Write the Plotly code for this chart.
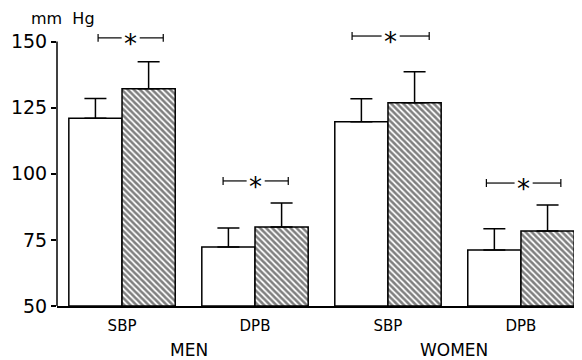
import plotly.graph_objects as go

# Data
groups = ["SBP", "DPB", "SBP", "DPB"]
sex_labels = ["MEN", "WOMEN"]
white_mean = [121, 72.3, 119.7, 71.2]
white_sd = [7.5, 7.2, 8.7, 8.0]
hatch_mean = [132.2, 79.9, 126.9, 78.4]
hatch_sd = [10.2, 9.1, 11.7, 9.8]
# significance brackets (x from, x to, y level) in data units
br_left = [-0.18, 0.76, 1.73, 2.74]
br_right = [0.31, 1.25, 2.31, 3.30]
br_y = [151.4, 97.3, 152.1, 96.5]
y_ticks = [50, 75, 100, 125, 150]

x = list(range(len(groups)))
FONT = "DejaVu Sans, sans-serif"

fig = go.Figure()
fig.add_trace(go.Bar(
    x=x, y=[m - 50 for m in white_mean], base=50,
    marker=dict(color="white", line=dict(color="black", width=1.5)),
    error_y=dict(type="data", symmetric=False, array=white_sd, arrayminus=[0]*4,
                 color="black", thickness=1.5, width=11),
    showlegend=False,
))
fig.add_trace(go.Bar(
    x=x, y=[m - 50 for m in hatch_mean], base=50,
    marker=dict(color="white", line=dict(color="black", width=1.5),
                pattern=dict(shape="\\", fgcolor="black", bgcolor="white",
                             size=4.3, solidity=0.6)),
    error_y=dict(type="data", symmetric=False, array=hatch_sd, arrayminus=[0]*4,
                 color="black", thickness=1.5, width=11),
    showlegend=False,
))

shapes = []
annotations = []
# y axis line from 50 to 150
shapes.append(dict(type="line", xref="paper", yref="y", x0=0, x1=0, y0=50, y1=150,
                   line=dict(color="black", width=1.5)))
gap = 0.068
cap = 1.5
for l, r, yv in zip(br_left, br_right, br_y):
    c = (l + r) / 2
    for a, b in [(l, c - gap), (c + gap, r)]:
        shapes.append(dict(type="line", xref="x", yref="y", x0=a, x1=b, y0=yv, y1=yv,
                           line=dict(color="black", width=1.2)))
    for e in [l, r]:
        shapes.append(dict(type="line", xref="x", yref="y", x0=e, x1=e, y0=yv - cap, y1=yv + cap,
                           line=dict(color="black", width=1.2)))
    annotations.append(dict(x=c, y=yv, xref="x", yref="y", text="*", showarrow=False,
                            font=dict(family=FONT, size=26, color="black"), yshift=-6))

for i, s in enumerate(sex_labels):
    annotations.append(dict(x=0.5 + 2 * i, y=-0.16, xref="x", yref="paper", text=s,
                            yanchor="middle", showarrow=False,
                            font=dict(family=FONT, size=17, color="black")))
annotations.append(dict(x=-0.054, y=1.047, xref="paper", yref="paper", text="mm  Hg",
                        showarrow=False, xanchor="left", yanchor="middle",
                        font=dict(family=FONT, size=16, color="black")))

fig.update_layout(
    width=574, height=352,
    margin=dict(l=49, r=2, t=23, b=54),
    paper_bgcolor="white", plot_bgcolor="white",
    barmode="group", bargap=0.2, bargroupgap=0,
    shapes=shapes, annotations=annotations,
    xaxis=dict(range=[-0.489, 3.444], tickvals=x, ticktext=groups,
               showline=True, linecolor="black", linewidth=1.5,
               ticks="outside", ticklen=5, tickcolor="rgba(0,0,0,0)",
               showgrid=False, zeroline=False,
               tickfont=dict(family=FONT, size=15, color="black")),
    yaxis=dict(range=[50, 154], tickvals=y_ticks, ticks="outside", ticklen=5,
               tickwidth=1.5, tickcolor="black", showline=False, showgrid=False,
               zeroline=False, tickfont=dict(family=FONT, size=19, color="black")),
)
fig.write_html("out.html")
